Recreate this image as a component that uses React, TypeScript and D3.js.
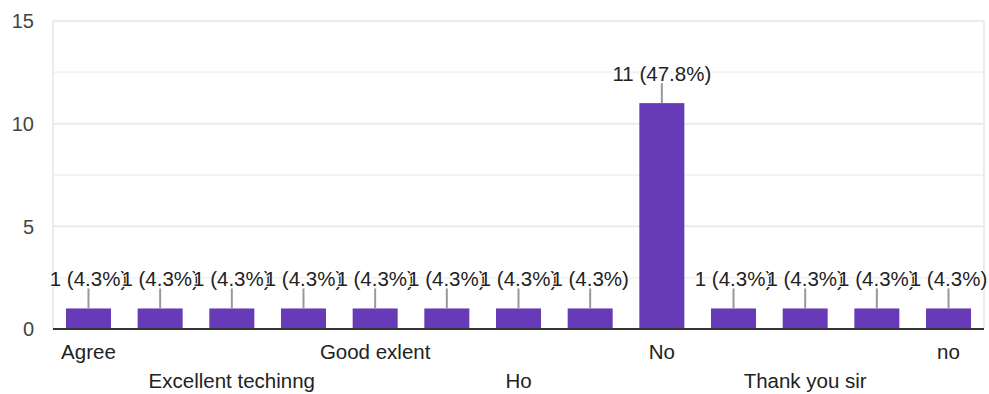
import React from "react";
import * as d3 from "d3";

const categories = [
  "Agree",
  "Excellent",
  "Excellent techinng",
  "Good",
  "Good exlent",
  "Good teaching",
  "Ho",
  "Nice",
  "No",
  "Nothing",
  "Thank you sir",
  "Very good",
  "no",
];
const counts = [1, 1, 1, 1, 1, 1, 1, 1, 11, 1, 1, 1, 1];
const yTicks = [0, 5, 10, 15];
const yMinorTicks = [2.5, 7.5, 12.5];
const shownRow1 = [0, 4, 8, 12];
const shownRow2 = [2, 6, 10];

const W = 989;
const H = 394;
const left = 53;
const right = 984;
const top = 21;
const bottom = 329;
const FONT = "Arial, 'Liberation Sans', sans-serif";

export default function App() {
  const total = d3.sum(counts);
  const x = d3
    .scaleBand<number>()
    .domain(categories.map((_, i) => i))
    .range([left, right])
    .paddingInner(0.372)
    .paddingOuter(0.181);
  const y = d3.scaleLinear().domain([0, 15]).range([bottom, top]);
  const fmt = (v: number) => `${v} (${((v / total) * 100).toFixed(1)}%)`;

  return (
    <svg
      width={W}
      height={H}
      style={{ position: "absolute", left: 0, top: 0, background: "#fff" }}
      fontFamily={FONT}
    >
      {yMinorTicks.map((t) => (
        <line key={"m" + t} x1={left} x2={right} y1={y(t)} y2={y(t)} stroke="#f3f3f3" strokeWidth={2} />
      ))}
      {yTicks.map((t) => (
        <line key={"g" + t} x1={left} x2={right} y1={y(t)} y2={y(t)} stroke="#ebebeb" strokeWidth={2} />
      ))}
      <line x1={left} x2={left} y1={top} y2={bottom} stroke="#ebebeb" strokeWidth={2} />
      <line x1={right} x2={right} y1={top} y2={bottom} stroke="#ebebeb" strokeWidth={2} />
      {yTicks.map((t) => (
        <text key={"t" + t} x={34} y={y(t)} dy="0.36em" textAnchor="end" fontSize={20} fill="#444">
          {t}
        </text>
      ))}
      {counts.map((v, i) => (
        <rect key={"b" + i} x={x(i)} y={y(v)} width={x.bandwidth()} height={y(0) - y(v)} fill="#673ab7" />
      ))}
      <line x1={left} x2={right} y1={bottom} y2={bottom} stroke="#333" strokeWidth={2} />
      {counts.map((v, i) => {
        const cx = (x(i) as number) + x.bandwidth() / 2;
        return (
          <g key={"l" + i}>
            <line x1={cx} x2={cx} y1={y(v)} y2={y(v) - 20} stroke="#999" strokeWidth={2} />
            <text
              x={cx}
              y={y(v) - 22.5}
              textAnchor="middle"
              fontSize={20.5}
              fill="#222"
              stroke="#fff"
              strokeWidth={2}
              paintOrder="stroke"
            >
              {fmt(v)}
            </text>
          </g>
        );
      })}
      {shownRow1.map((i) => (
        <text
          key={"c1" + i}
          x={(x(i) as number) + x.bandwidth() / 2}
          y={359}
          textAnchor="middle"
          fontSize={20.5}
          fill="#222"
        >
          {categories[i]}
        </text>
      ))}
      {shownRow2.map((i) => (
        <text
          key={"c2" + i}
          x={(x(i) as number) + x.bandwidth() / 2}
          y={388}
          textAnchor="middle"
          fontSize={20.5}
          fill="#222"
        >
          {categories[i]}
        </text>
      ))}
    </svg>
  );
}
